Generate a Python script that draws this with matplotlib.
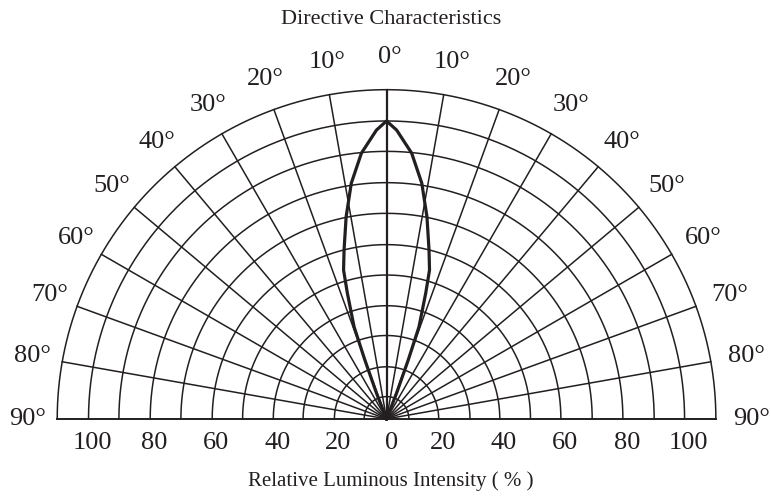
import matplotlib.pyplot as plt
import numpy as np

plt.rcParams['font.family'] = ['Liberation Serif', 'DejaVu Serif']

# half of the radiation lobe: angle off axis (deg) and relative intensity (%)
lobe_angle = [0, 2, 5.4, 8.5, 11.3, 14.1, 16.1, 17.3, 19.4, 20.2, 21.3, 22.5]
lobe_value = [100, 97, 89.6, 80, 69.2, 58.5, 52, 44.2, 32.8, 21.1, 9.3, 0]

# grid rings and spokes
ring_radii = [7.5, 17.5, 28, 38, 48.3, 58.5, 69, 79.3, 89.8, 100, 110.5]
spoke_angles = list(range(-80, 90, 10))
label_angles = list(range(-90, 100, 10))
tick_values = [20, 40, 60, 80, 100]

ink = '#231f20'

fig = plt.figure(figsize=(7.71, 4.97), dpi=100)
ax = fig.add_axes([0, 0, 1, 1])
ax.set_xlim(-129.7, 129.0)
ax.set_ylim(-26.2, 140.6)
ax.axis('off')

# rings
t = np.radians(np.linspace(-90, 90, 400))
for r in ring_radii:
    ax.plot(r * np.sin(t), r * np.cos(t), color=ink, lw=1.1)

# spokes
outer = ring_radii[-1]
for a in spoke_angles:
    ar = np.radians(a)
    ax.plot([0, outer * np.sin(ar)], [0, outer * np.cos(ar)], color=ink,
            lw=1.6 if a == 0 else 1.1)
ax.plot([-outer, outer], [0, 0], color=ink, lw=1.4)

# lobe, mirrored
ang = np.array([-x for x in lobe_angle[::-1]] + lobe_angle[1:])
val = np.array(lobe_value[::-1] + lobe_value[1:])
ax.plot(val * np.sin(np.radians(ang)), val * np.cos(np.radians(ang)),
        color=ink, lw=2.3, solid_joinstyle='round')

# angle labels
for a in label_angles:
    ar = np.radians(a)
    ax.text(121.5 * np.sin(ar) + 1.0, 121.5 * np.cos(ar), '%d°' % abs(a),
            ha='center', va='center', fontsize=19, color=ink)

# intensity labels
tick_pos = ring_radii[1::2]
ax.text(1.7, -8, '0', ha='center', va='center', fontsize=19, color=ink)
for v, p in zip(tick_values, tick_pos):
    ax.text(-p + 1.4, -8, str(v), ha='center', va='center', fontsize=19, color=ink)
    ax.text(p + 1.4, -8, str(v), ha='center', va='center', fontsize=19, color=ink)

ax.text(1.5, 134.2, 'Directive Characteristics', ha='center', va='center',
        fontsize=16, color=ink)
ax.text(1.5, -20.8, 'Relative Luminous Intensity ( % )', ha='center', va='center',
        fontsize=15, color=ink)

fig.savefig('out.png', dpi=100)
